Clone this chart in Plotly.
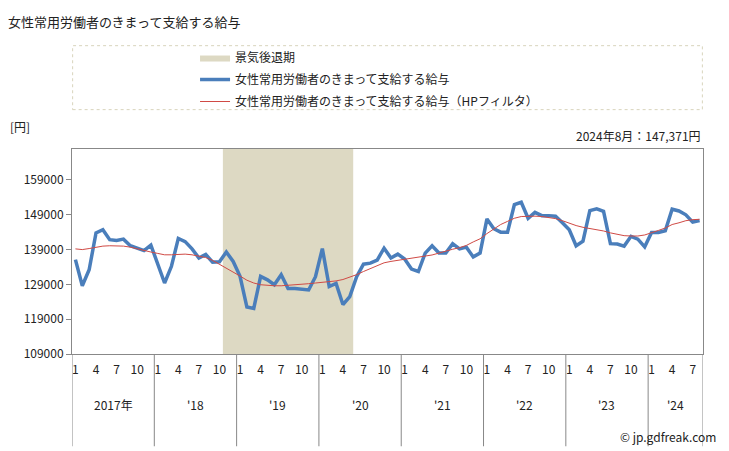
import plotly.graph_objects as go

FONT = "Noto Sans CJK JP"

years = ["2017年", "'18", "'19", "'20", "'21", "'22", "'23", "'24"]
months_per_year = [12, 12, 12, 12, 12, 12, 12, 8]
month_tick_labels = ["1", "4", "7", "10"]

wage = [136100, 128600, 133200, 143800, 144700, 141850, 141600, 142000, 140100, 139300, 138700, 140300,
        134700, 129400, 134200, 142200, 141300, 139200, 136600, 137600, 135400, 135500, 138300, 135600,
        131300, 122500, 122100, 131300, 130300, 128900, 131800, 127800, 127800, 127700, 127400, 131200,
        139300, 128400, 129300, 123200, 125500, 131200, 134800, 135100, 136000, 139400, 136600, 137700,
        136300, 133400, 132700, 138000, 140100, 138000, 138000, 140700, 139200, 139700, 136900, 138000,
        147800, 145000, 144000, 144000, 151900, 152600, 148000, 149700, 148750, 148750, 148600, 146700,
        144700, 140100, 141400, 150200, 150700, 150000, 140700, 140600, 140000, 142800, 142000, 139800,
        143900, 143900, 144400, 150600, 150100, 149000, 146900, 147371]

hp = [139200, 139000, 139300, 139700, 140000, 140100, 140100, 140000, 139700, 139200, 138600, 138300,
      137900, 137500, 137500, 137600, 137700, 137500, 137100, 136700, 135900, 134800, 133700, 132700,
      131400, 130200, 129400, 128900, 128700, 128600, 128600, 128700, 128900, 129000, 129200, 129400,
      129600, 129700, 130000, 130400, 131000, 131800, 132700, 133600, 134500, 135200, 135600, 135900,
      136200, 136500, 136700, 137000, 137450, 138000, 138600, 139100, 139550, 140200, 141200, 142100,
      143600, 145000, 146200, 147100, 148000, 148500, 148600, 148600, 148500, 148300, 147900, 147300,
      146500, 145900, 145400, 145100, 144800, 144350, 143800, 143300, 143000, 142900, 142900, 143200,
      143950, 144500, 145200, 146200, 146700, 147300, 147600, 147700]

# recession: Nov 2018 .. May 2020 (month indices)
recession_start = 22
recession_end = 40

y_ticks = [109000, 119000, 129000, 139000, 149000, 159000]
y_range = [109000, 167900]

x = list(range(len(wage)))

tickvals, ticktext = [], []
start = 0
year_bounds = [0]
for n in months_per_year:
    for m, lab in zip([0, 3, 6, 9], month_tick_labels):
        if m < n:
            tickvals.append(start + m)
            ticktext.append(lab)
    start += n
    year_bounds.append(start)

fig = go.Figure()

rx0, rx1 = recession_start - 0.5, recession_end + 0.5
fig.add_trace(go.Scatter(
    x=[rx0, rx1, rx1, rx0, rx0], y=[y_range[0], y_range[0], y_range[1], y_range[1], y_range[0]],
    fill="toself", fillcolor="#ddd9c3", line=dict(width=0), mode="lines",
    name="景気後退期", hoverinfo="skip", legendgroup="a"))

fig.add_trace(go.Scatter(
    x=x, y=wage, mode="lines", line=dict(color="#4a7ebb", width=3.5),
    name="女性常用労働者のきまって支給する給与", legendgroup="b"))

fig.add_trace(go.Scatter(
    x=x, y=hp, mode="lines", line=dict(color="#d04a45", width=1),
    name="女性常用労働者のきまって支給する給与（HPフィルタ）", legendgroup="c"))

shapes = []
for b in year_bounds:
    shapes.append(dict(type="line", xref="x", yref="paper", x0=b - 0.5, x1=b - 0.5,
                       y0=0, y1=-0.45, line=dict(color="#888888", width=1)))
shapes.append(dict(type="rect", xref="paper", yref="paper", x0=0.001, x1=0.999,
                   y0=1.192, y1=1.504, line=dict(color="#d8d4bc", width=1, dash="dot")))

annotations = []
for i, yl in enumerate(years):
    c = (year_bounds[i] + year_bounds[i + 1] - 1) / 2
    annotations.append(dict(x=c, y=-0.296, xref="x", yref="paper", text=yl, showarrow=False,
                            font=dict(size=12, color="#222222", family=FONT)))

annotations += [
    dict(text="女性常用労働者のきまって支給する給与", xref="paper", yref="paper",
         x=-0.1045, y=1.62, xanchor="left", yanchor="middle", showarrow=False,
         font=dict(size=13, color="#222222", family=FONT)),
    dict(text="[円]", xref="paper", yref="paper", x=-0.102, y=1.11,
         xanchor="left", yanchor="middle", showarrow=False,
         font=dict(size=12, color="#222222", family=FONT)),
    dict(text="2024年8月：147,371円", xref="paper", yref="paper", x=1.0, y=1.065,
         xanchor="right", yanchor="middle", showarrow=False,
         font=dict(size=12, color="#222222", family=FONT)),
    dict(text="© jp.gdfreak.com", xref="paper", yref="paper", x=1.024, y=-0.4,
         xanchor="right", yanchor="middle", showarrow=False,
         font=dict(size=12, color="#222222", family=FONT)),
]

fig.update_layout(
    width=729, height=451,
    margin=dict(l=72, r=26, t=149, b=97),
    paper_bgcolor="white", plot_bgcolor="white",
    font=dict(family=FONT, size=12, color="#222222"),
    showlegend=True,
    legend=dict(x=0.195, y=1.517, xanchor="left", yanchor="top", bgcolor="rgba(0,0,0,0)",
                font=dict(size=12, family=FONT, color="#222222"), tracegroupgap=3,
                itemwidth=30),
    xaxis=dict(range=[-0.5, len(wage) - 0.5], tickvals=tickvals, ticktext=ticktext,
               ticks="", ticklabelstandoff=5, showgrid=False, zeroline=False, showline=True, mirror=True,
               linecolor="#888888", linewidth=1, tickfont=dict(size=12, family=FONT)),
    yaxis=dict(range=y_range, tickvals=y_ticks, ticktext=[str(v) for v in y_ticks],
               ticks="outside", ticklen=5, tickcolor="#888888", showgrid=False, zeroline=False,
               showline=True, mirror=True, linecolor="#888888", linewidth=1,
               tickfont=dict(size=12, family=FONT)),
    shapes=shapes,
    annotations=annotations,
)

fig.write_html("out.html")
